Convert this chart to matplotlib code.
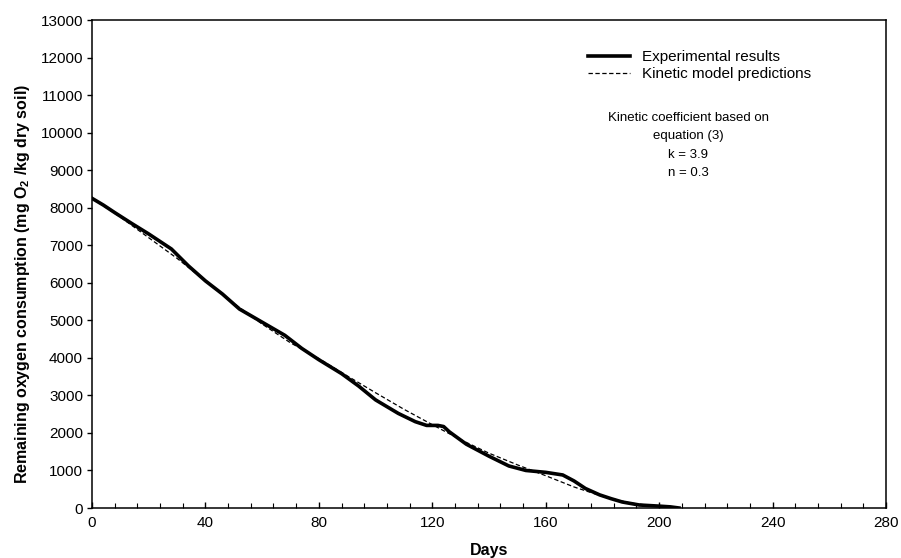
import matplotlib
matplotlib.use('Agg')
import matplotlib.pyplot as plt
from matplotlib.ticker import MultipleLocator

plt.rcParams['font.family'] = ['Liberation Sans', 'DejaVu Sans']
plt.rcParams['mathtext.fontset'] = 'custom'
plt.rcParams['mathtext.rm'] = 'Liberation Sans'
plt.rcParams['mathtext.bf'] = 'Liberation Sans:bold'

# experimental curve (days, mg O2/kg dry soil)
exp_days = [0, 4, 8, 14, 20, 28, 34, 40, 46, 52, 60, 68, 74, 80, 88, 94, 100, 108, 114,
            118, 122, 124, 126, 132, 140, 147, 153, 160, 166, 170, 174, 179, 183, 187,
            193, 200, 204, 207]
exp_vals = [8250, 8070, 7870, 7580, 7300, 6900, 6450, 6050, 5700, 5300, 4950, 4600, 4250,
            3950, 3580, 3250, 2880, 2520, 2300, 2200, 2200, 2170, 2030, 1700, 1380, 1120,
            1000, 950, 880, 720, 520, 350, 250, 160, 80, 50, 30, 0]

# kinetic model predictions
mod_days = [0, 10, 20, 30, 40, 50, 60, 70, 80, 90, 100, 110, 120, 130, 140, 150, 160,
            170, 180, 190, 200, 206]
mod_vals = [8250, 7750, 7200, 6650, 6050, 5450, 4900, 4400, 3980, 3520, 3070, 2630,
            2220, 1820, 1460, 1150, 860, 560, 310, 130, 40, 0]

fig = plt.figure(figsize=(9.01, 5.58), dpi=100)
ax = fig.add_axes([92 / 901, 50 / 558, 794 / 901, 488 / 558])

ax.plot(exp_days, exp_vals, color='black', linewidth=2.6, label='Experimental results',
        solid_joinstyle='round')
ax.plot(mod_days, mod_vals, color='black', linewidth=0.9, linestyle=(0, (3.5, 2)),
        label='Kinetic model predictions')

ax.set_xlim(0, 280)
ax.set_ylim(0, 13000)
ax.xaxis.set_major_locator(MultipleLocator(40))
ax.xaxis.set_minor_locator(MultipleLocator(8))
ax.yaxis.set_major_locator(MultipleLocator(1000))

ax.tick_params(axis='x', which='major', direction='in', length=4, width=1, pad=6, labelsize=11)
ax.tick_params(axis='x', which='minor', direction='in', length=3.5, width=0.8)
ax.tick_params(axis='y', which='major', direction='out', length=3.5, width=1, pad=3, labelsize=11)
for s in ax.spines.values():
    s.set_linewidth(1.1)

ax.set_xlabel('Days', fontsize=11.5, fontweight='bold', labelpad=9)
ax.set_ylabel('Remaining oxygen consumption (mg O$_\\mathbf{2}$ /kg dry soil)', fontsize=11.5,
              fontweight='bold')
ax.yaxis.set_label_coords(-0.076, 0.46)

ax.legend(loc='upper left', bbox_to_anchor=(0.625, 0.938), frameon=False, fontsize=11,
          handlelength=2.7, handletextpad=0.85, labelspacing=0.2, borderpad=0, borderaxespad=0)

ax.text(0.751, 0.812, 'Kinetic coefficient based on\nequation (3)\nk = 3.9\nn = 0.3',
        transform=ax.transAxes, ha='center', va='top', fontsize=9.5, linespacing=1.72)

fig.savefig('out.png', dpi=100)
